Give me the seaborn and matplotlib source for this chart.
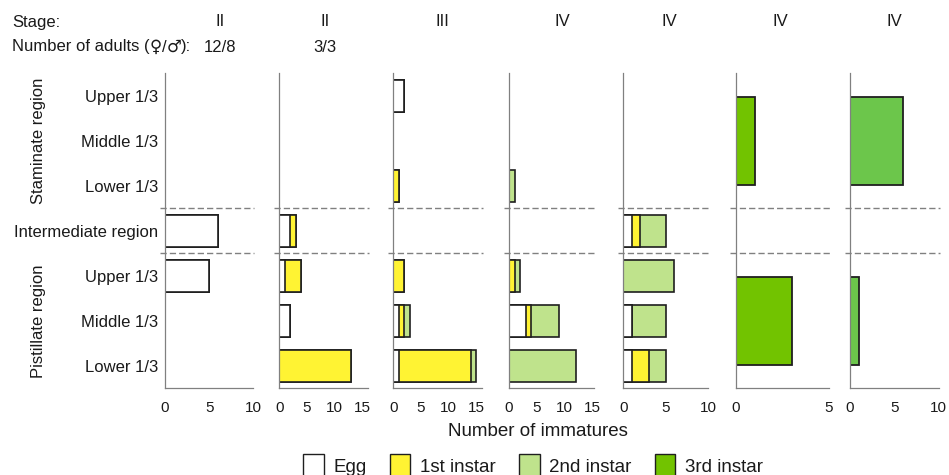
import numpy as np
import pandas as pd
import matplotlib
matplotlib.use("Agg")
import matplotlib.pyplot as plt
import matplotlib.transforms as mtransforms
from matplotlib.patches import Patch
import seaborn as sns

# ---- data -------------------------------------------------------------
row_labels = ["Upper 1/3", "Middle 1/3", "Lower 1/3", "Intermediate region",
              "Upper 1/3", "Middle 1/3", "Lower 1/3"]
stages = ["II", "II", "III", "IV", "IV", "IV", "IV"]
adults = ["12/8", "3/3", "", "", "", "", ""]

# counts per row (top to bottom), one list per inflorescence
egg = [
    [0, 0, 0, 6, 5, 0, 0],
    [0, 0, 0, 2, 1, 2, 0],
    [2, 0, 0, 0, 0, 1, 1],
    [0, 0, 0, 0, 0, 3, 0],
    [0, 0, 0, 1, 0, 1, 1],
    [0, 0, 0, 0, 0, 0, 0],
    [0, 0, 0, 0, 0, 0, 0],
]
first_instar = [
    [0, 0, 0, 0, 0, 0, 0],
    [0, 0, 0, 1, 3, 0, 13],
    [0, 0, 1, 0, 2, 1, 13],
    [0, 0, 0, 0, 1, 1, 0],
    [0, 0, 0, 1, 0, 0, 2],
    [0, 0, 0, 0, 0, 0, 0],
    [0, 0, 0, 0, 0, 0, 0],
]
second_instar = [
    [0, 0, 0, 0, 0, 0, 0],
    [0, 0, 0, 0, 0, 0, 0],
    [0, 0, 0, 0, 0, 1, 1],
    [0, 0, 1, 0, 1, 5, 12],
    [0, 0, 0, 3, 6, 4, 2],
    [0, 0, 0, 0, 0, 0, 0],
    [0, 0, 0, 0, 0, 0, 0],
]
# 3rd instar counted per whole region (staminate / pistillate)
third_staminate = [0, 0, 0, 0, 0, 1, 6]
third_pistillate = [0, 0, 0, 0, 0, 3, 1]

legend_labels = ["Egg", "1st instar", "2nd instar", "3rd instar"]

# ---- style ------------------------------------------------------------
sns.set_style("white")
plt.rcParams["font.family"] = ["Liberation Sans", "DejaVu Sans"]
TXT = "#1a1a1a"
GRAY = "#808080"
EDGE = "#1f1f1f"
C_EGG = "#ffffff"
C_1ST = "#fff333"
C_2ND = "#bfe38c"
C_3RD = ["#72c300", "#72c300", "#72c300", "#72c300", "#72c300", "#72c300", "#6cc64b"]

W, H = 949, 475
fig = plt.figure(figsize=(W / 100, H / 100), dpi=100)

lefts = [165, 279.3, 393.3, 509, 623.3, 736, 850]
widths = [88.3, 88.5, 88.5, 85.3, 85, 92.7, 88.7]
xmax = [10, 16, 16, 15.3, 10, 5, 10]
xticks = [[0, 5, 10], [0, 5, 10, 15], [0, 5, 10, 15], [0, 5, 10, 15],
          [0, 5, 10], [0, 5], [0, 5, 10]]
stage_x = [220, 325, 442, 562, 669, 780, 894]

y_top, y_bot = 73.3, 388.3
pos = np.arange(7)[::-1] + 0.5          # row centres, top row first
bar_h = 0.72
span_h = 1.96

for i in range(7):
    ax = fig.add_axes([lefts[i] / W, (H - y_bot) / H, widths[i] / W, (y_bot - y_top) / H])
    e = np.array(egg[i])
    c1 = e + np.array(first_instar[i])
    c2 = c1 + np.array(second_instar[i])

    # stacked bars drawn as cumulative layers, outermost first
    for vals, col in [(c2, C_2ND), (c1, C_1ST), (e, C_EGG)]:
        if vals.sum() == 0:
            continue
        df = pd.DataFrame({"count": vals, "row": pos})
        sns.barplot(data=df, x="count", y="row", orient="h", native_scale=True,
                    width=bar_h, color=col, saturation=1, errorbar=None,
                    edgecolor=EDGE, linewidth=1.2, ax=ax)

    # region-wide 3rd-instar bars spanning three rows
    t = np.array([third_staminate[i], third_pistillate[i]])
    if t.sum() > 0:
        df3 = pd.DataFrame({"count": t, "row": [5.5, 1.5]})
        sns.barplot(data=df3, x="count", y="row", orient="h", native_scale=True,
                    width=span_h / 4.0, color=C_3RD[i], saturation=1, errorbar=None,
                    edgecolor=EDGE, linewidth=1.3, ax=ax)

    for p in list(ax.patches):
        if p.get_width() == 0:
            p.remove()

    ax.set_xlim(0, xmax[i])
    ax.set_ylim(0, 7)
    ax.set_xlabel("")
    ax.set_ylabel("")
    sns.despine(ax=ax)
    for s in ("left", "bottom"):
        ax.spines[s].set_color(GRAY)
        ax.spines[s].set_linewidth(0.9)

    ax.set_xticks(xticks[i])
    ax.set_xticklabels([str(v) for v in xticks[i]])
    ax.tick_params(axis="x", direction="in", length=3, width=0.9, color=GRAY,
                   pad=9, labelsize=11, labelcolor=TXT)
    ax.set_yticks([0, 1, 2, 5, 6, 7])
    ax.set_yticklabels([])
    ax.tick_params(axis="y", which="major", direction="out", length=3, width=0.9, color=GRAY)
    if i == 0:
        ax.set_yticks(pos, minor=True)
        ax.set_yticklabels(row_labels, minor=True)
        ax.tick_params(axis="y", which="minor", length=0, pad=5, labelsize=12, labelcolor=TXT)
    else:
        ax.set_yticks([], minor=True)

    # dashed boundaries around the intermediate region
    trans = mtransforms.blended_transform_factory(ax.transAxes, ax.transData)
    for yb in (3, 4):
        ax.plot([-0.06, 1.01], [yb, yb], transform=trans, clip_on=False,
                color=GRAY, lw=1.0, ls=(0, (4.5, 2.2)))

    fig.text(stage_x[i] / W, 1 - 22 / H, stages[i], ha="center", va="center",
             fontsize=12, color=TXT)
    if adults[i]:
        fig.text(stage_x[i] / W, 1 - 47 / H, adults[i], ha="center", va="center",
                 fontsize=12, color=TXT)

fig.text(12 / W, 1 - 22 / H, "Stage:", ha="left", va="center", fontsize=12, color=TXT)

# header line built piece by piece so the sex symbols use a font with full-size glyphs
renderer = fig.canvas.get_renderer()
pieces = [("Number of adults (", ["Liberation Sans"]),
          ("♀", ["DejaVu Sans"]),
          ("/", ["Liberation Sans"]),
          ("♂", ["DejaVu Sans"]),
          ("):", ["Liberation Sans"])]
x_px = 12.0
for s, fam in pieces:
    t = fig.text(x_px / W, 1 - 47 / H, s, ha="left", va="center",
                 fontsize=12, color=TXT, family=fam)
    x_px += t.get_window_extent(renderer).width

fig.text(39 / W, 1 - 141 / H, "Staminate region", rotation=90, ha="center",
         va="center", fontsize=12, color=TXT)
fig.text(39 / W, 1 - 321 / H, "Pistillate region", rotation=90, ha="center",
         va="center", fontsize=12, color=TXT)

fig.text(537.5 / W, 1 - 431 / H, "Number of immatures", ha="center", va="center",
         fontsize=13.5, color=TXT)

handles = [Patch(facecolor=c, edgecolor=EDGE, linewidth=1.0)
           for c in (C_EGG, C_1ST, C_2ND, C_3RD[0])]
fig.legend(handles, legend_labels, loc="upper center",
           bbox_to_anchor=(533 / W, 1 - 454 / H), ncol=4, frameon=False,
           fontsize=13.5, handlelength=1.1, handleheight=1.5, handletextpad=0.5,
           columnspacing=1.25, borderpad=0, borderaxespad=0, labelcolor=TXT)

fig.savefig("out.png", dpi=100)
